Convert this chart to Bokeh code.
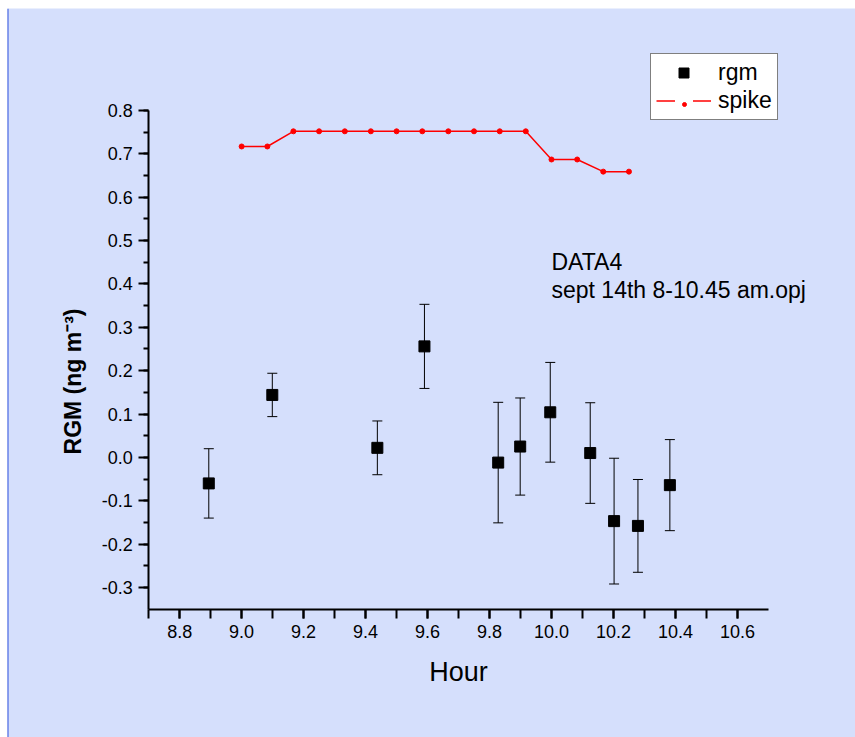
import math

from bokeh.plotting import figure
from bokeh.models import (ColumnDataSource, Whisker, TeeHead, Legend, LegendItem, Label, Span,
                          LinearAxis, Range1d, SingleIntervalTicker, NumeralTickFormatter)
from bokeh.embed import file_html
from bokeh.resources import INLINE

# rgm measurements (hour of day, value, error)
rgm_hour = [8.894, 9.099, 9.438, 9.590, 9.828, 9.899, 9.996, 10.125, 10.202, 10.279, 10.382]
rgm_val = [-0.060, 0.144, 0.022, 0.256, -0.012, 0.025, 0.104, 0.010, -0.147, -0.158, -0.064]
rgm_err = [0.080, 0.050, 0.062, 0.097, 0.139, 0.112, 0.115, 0.116, 0.145, 0.107, 0.105]

# spike series
spike_hour = [9.0, 9.083, 9.167, 9.25, 9.333, 9.417, 9.5, 9.583,
              9.667, 9.75, 9.833, 9.917, 10.0, 10.083, 10.167, 10.25]
spike_val = [0.717, 0.717, 0.752, 0.752, 0.752, 0.752, 0.752, 0.752,
             0.752, 0.752, 0.752, 0.752, 0.687, 0.687, 0.659, 0.659]

BG = "#D5DFFC"
FONT = "Liberation Sans"


def build():
    src = ColumnDataSource(data=dict(
        x=rgm_hour,
        y=rgm_val,
        upper=[v + e for v, e in zip(rgm_val, rgm_err)],
        lower=[v - e for v, e in zip(rgm_val, rgm_err)],
    ))

    # the frame covers the whole page so that notes and legend are not clipped;
    # axes are pinned inside it (Origin layer look)
    p = figure(width=855, height=737, x_range=Range1d(8.2444, 10.9811),
               y_range=Range1d(-0.6460, 1.0352),
               x_axis_location=None, y_axis_location=None,
               output_backend="svg", toolbar_location=None,
               min_border=0, min_border_left=7, min_border_top=8)
    p.background_fill_color = BG
    p.border_fill_color = "white"
    p.outline_line_color = None
    p.grid.visible = False
    p.add_layout(Span(location=8.2444, dimension="height", line_color="#3355DD", line_width=2))

    xaxis = LinearAxis(fixed_location=-0.35, bounds=(8.7, 10.7),
                       ticker=SingleIntervalTicker(interval=0.2, num_minor_ticks=2))
    yaxis = LinearAxis(fixed_location=8.7, bounds=(-0.35, 0.8),
                       ticker=SingleIntervalTicker(interval=0.1, num_minor_ticks=2))
    for ax in (xaxis, yaxis):
        ax.formatter = NumeralTickFormatter(format="0.0")
        ax.axis_line_width = 2
        ax.major_tick_line_width = 2
        ax.minor_tick_line_width = 2
        ax.major_tick_in = 0
        ax.minor_tick_in = 0
        ax.major_label_text_font = FONT
        ax.major_label_text_font_size = "18px"
        ax.major_label_text_color = "black"
    xaxis.major_tick_out = 9
    xaxis.minor_tick_out = 9
    xaxis.major_label_standoff = 7
    yaxis.major_tick_out = 10
    yaxis.minor_tick_out = 5
    yaxis.major_label_standoff = 6

    xaxis.axis_label = "Hour"
    xaxis.axis_label_text_font = FONT
    xaxis.axis_label_text_font_size = "27px"
    xaxis.axis_label_text_font_style = "normal"
    xaxis.axis_label_text_color = "black"
    xaxis.axis_label_standoff = 15
    p.add_layout(xaxis, "below")
    p.add_layout(yaxis, "left")

    # y label drawn by hand, Origin puts it a bit below centre
    p.add_layout(Label(x=8.456, y=0.175, text="RGM (ng m⁻³)", angle=math.pi / 2,
                       text_align="center", text_baseline="middle", text_color="black",
                       text_font=FONT, text_font_size="23px", text_font_style="bold"))

    whisk = Whisker(base="x", upper="upper", lower="lower", source=src,
                    line_color="black", line_width=1,
                    upper_head=TeeHead(size=10, line_color="black", line_width=1),
                    lower_head=TeeHead(size=10, line_color="black", line_width=1))
    p.add_layout(whisk)
    sq = p.scatter("x", "y", source=src, marker="square", size=11,
                   fill_color="black", line_color="black")

    ln = p.line(spike_hour, spike_val, line_color="#FF0000", line_width=1.5)
    dots = p.scatter(spike_hour, spike_val, size=5, fill_color="#FF0000", line_color="#FF0000")

    legend = Legend(items=[LegendItem(label="rgm", renderers=[sq]),
                           LegendItem(label="spike", renderers=[ln])],
                    location=(643, 617), orientation="vertical",
                    glyph_width=55, glyph_height=25, label_height=25,
                    spacing=1, padding=5, label_standoff=7, margin=0,
                    label_text_font=FONT, label_text_font_size="23px",
                    label_text_color="black",
                    border_line_color="black", border_line_width=1,
                    background_fill_color="white", background_fill_alpha=1)
    p.add_layout(legend)

    # small key dot with a gap in the line, as Origin draws line+symbol keys
    key_dot = Legend(items=[LegendItem(label=" ", renderers=[dots])],
                     location=(668, 628), glyph_width=18, glyph_height=10,
                     label_height=10, label_width=0, label_standoff=0,
                     padding=0, spacing=0, margin=0, label_text_font_size="2px",
                     border_line_color=None,
                     background_fill_color="white", background_fill_alpha=1)
    p.add_layout(key_dot)

    p.add_layout(Label(x=10.0, y=0.451, text="DATA4", text_font=FONT, text_color="black",
                       text_font_size="23px", text_baseline="alphabetic"))
    p.add_layout(Label(x=10.0, y=0.385, text="sept 14th 8-10.45 am.opj", text_font=FONT,
                       text_color="black", text_font_size="23px", text_baseline="alphabetic"))
    return p


if __name__ == "__main__":
    p = build()
    open("out.html", "w").write(file_html(p, INLINE))
